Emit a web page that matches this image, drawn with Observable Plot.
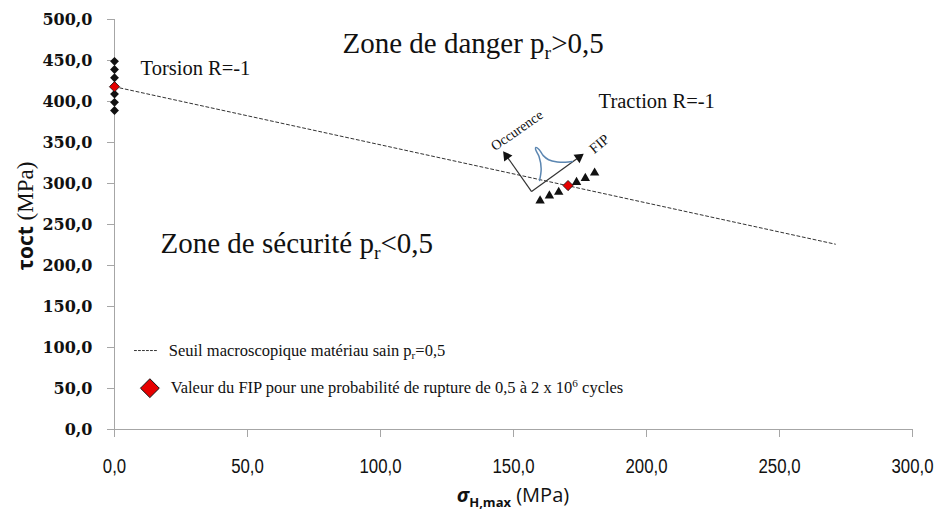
<!DOCTYPE html>
<html><head><meta charset="utf-8">
<script src="https://cdn.jsdelivr.net/npm/d3@7"></script>
<script src="https://cdn.jsdelivr.net/npm/@observablehq/plot@0.6"></script>
<style>
body{margin:0;background:#fff;}
#chart svg{display:block;overflow:visible;}
</style></head><body><div id="chart"></div>
<script>
// ---- data ----
const xTicks = [0, 50, 100, 150, 200, 250, 300];
const yTicks = [0, 50, 100, 150, 200, 250, 300, 350, 400, 450, 500];
const torsionX = [0, 0, 0, 0, 0, 0, 0];
const torsionY = [449, 439, 429, 419, 409, 399, 389];
const tractionX = [160, 163.5, 167, 173.7, 177, 180.5];
const tractionY = [279, 285, 289.5, 301.5, 306.5, 313];
const fipX = [0, 170.5];
const fipY = [418, 297.5];
const seuilX = [0, 271];
const seuilY = [418, 226];
// inset sketch (occurrence distribution of the FIP)
const insetOrigin = [156.8, 290.2];
const occurHead = [147.4, 333.5];
const fipHead = [174.6, 332.0];
const bellX = [159.8, 160.4, 159.6, 158.3, 158.4, 159.6, 161.2, 163.2, 166.5, 169.5, 172.1];
const bellY = [303.7, 318.0, 333.0, 341.5, 344.0, 341.5, 334.0, 329.0, 326.3, 325.8, 326.8];
// labels
const zoneDanger = "Zone de danger p_{r}>0,5";
const zoneSecu = "Zone de sécurité p_{r}<0,5";
const torsionLabel = "Torsion R=-1";
const tractionLabel = "Traction R=-1";
const legendSeuil = "Seuil macroscopique matériau sain p_{r}=0,5";
const legendFip = "Valeur du FIP pour une probabilité de rupture de 0,5 à 2 x 10^{6} cycles";

const fmt = d => d.toFixed(1).replace(".", ",");
const torsion = torsionX.map((x, i) => ({x, y: torsionY[i]}));
const traction = tractionX.map((x, i) => ({x, y: tractionY[i]}));
const fip = fipX.map((x, i) => ({x, y: fipY[i]}));
const seuil = seuilX.map((x, i) => ({x, y: seuilY[i]}));
const bell = bellX.map((x, i) => ({x, y: bellY[i]}));
const arrows = [
  {x1: insetOrigin[0], y1: insetOrigin[1], x2: occurHead[0], y2: occurHead[1], rot: -36},
  {x1: insetOrigin[0], y1: insetOrigin[1], x2: fipHead[0], y2: fipHead[1], rot: 54}
];
const serif = "Liberation Serif";
const axisGray = "#a6a6a6";

const plot = Plot.plot({
  width: 938, height: 511,
  marginLeft: 114, marginRight: 26, marginTop: 19, marginBottom: 82,
  x: {domain: [0, 300]},
  y: {domain: [0, 500]},
  style: {background: "#fff", color: "#111", overflow: "visible"},
  marks: [
    Plot.axisY({ticks: yTicks, tickSize: 7, tickPadding: 15, tickFormat: fmt, label: null,
      stroke: axisGray, fill: "#111", fontFamily: "DejaVu Serif", fontWeight: "bold", fontSize: 16}),
    Plot.axisX({ticks: xTicks, tickSize: 8, tickPadding: 21, tickFormat: fmt, label: null,
      stroke: axisGray, fill: "#111", fontFamily: "Liberation Sans Narrow, Liberation Sans, sans-serif", fontSize: 21}),
    Plot.ruleY([0], {x1: 0, x2: 300, stroke: axisGray}),
    Plot.ruleX([0], {y1: 0, y2: 500, stroke: axisGray}),
    // threshold
    Plot.line(seuil, {x: "x", y: "y", stroke: "#333", strokeWidth: 1, strokeDasharray: "3,2.5"}),
    // inset sketch
    Plot.link(arrows, {x1: "x1", y1: "y1", x2: "x2", y2: "y2", stroke: "#333", strokeWidth: 1.2}),
    Plot.dot(arrows, {x: "x2", y: "y2", symbol: "triangle", r: 3.8, fill: "#111", stroke: null, rotate: "rot"}),
    Plot.line(bell, {x: "x", y: "y", curve: "catmull-rom", stroke: "#5b86b1", strokeWidth: 1.5}),
    Plot.text(["Occurence"], {x: 151.3, y: 364.6, rotate: -35, fontSize: 14, fontFamily: serif, fill: "#111"}),
    Plot.text(["FIP"], {x: 182.3, y: 348.2, rotate: -40, fontSize: 14.5, fontFamily: serif, fill: "#111"}),
    // points
    Plot.dot(torsion, {x: "x", y: "y", symbol: "diamond2", r: 4, fill: "#111", stroke: null}),
    Plot.dot(traction, {x: "x", y: "y", symbol: "triangle", r: 3.5, fill: "#111", stroke: null}),
    Plot.dot(fip, {x: "x", y: "y", symbol: "diamond2", r: 4.6, fill: "#e60000", stroke: "#111", strokeWidth: 0.8}),
    // annotations
    Plot.text([zoneDanger], {x: 85.7, y: 470.7, textAnchor: "start", fontSize: 29, fontFamily: serif, fill: "#111"}),
    Plot.text([zoneSecu], {x: 17.3, y: 226.5, textAnchor: "start", fontSize: 29, fontFamily: serif, fill: "#111"}),
    Plot.text([torsionLabel], {x: 9.8, y: 440, textAnchor: "start", fontSize: 20.5, fontFamily: serif, fill: "#111"}),
    Plot.text([tractionLabel], {x: 182, y: 400, textAnchor: "start", fontSize: 20.5, fontFamily: serif, fill: "#111"}),
    // legend
    Plot.line([{x: 7.5, y: 96.3}, {x: 16.2, y: 96.3}], {x: "x", y: "y", stroke: "#333", strokeWidth: 1, strokeDasharray: "2,2"}),
    Plot.text([legendSeuil], {x: 20.4, y: 96.3, textAnchor: "start", fontSize: 16.5, fontFamily: serif, fill: "#111"}),
    Plot.dot([{x: 13.3, y: 50.4}], {x: "x", y: "y", symbol: "diamond2", r: 8.5, fill: "#e60000", stroke: "#111", strokeWidth: 1}),
    Plot.text([legendFip], {x: 21.1, y: 50.4, textAnchor: "start", fontSize: 16.5, fontFamily: serif, fill: "#111"})
  ]
});
document.getElementById("chart").appendChild(plot);

const NS = "http://www.w3.org/2000/svg";
// rich text: _{sub} and ^{sup}
plot.querySelectorAll("text").forEach(t => {
  const s = t.textContent;
  if (!/[_^]\{/.test(s)) return;
  const fs = parseFloat(t.getAttribute("font-size")) || parseFloat(getComputedStyle(t).fontSize) || 16;
  t.textContent = "";
  let cur = 0, last = 0, m;
  const re = /([_^])\{([^}]*)\}/g;
  const add = (str, target, small) => {
    const ts = document.createElementNS(NS, "tspan");
    ts.textContent = str;
    if (small) ts.setAttribute("font-size", (fs * 0.68).toFixed(1));
    const dy = target - cur;
    if (dy) ts.setAttribute("dy", dy.toFixed(1));
    cur = target;
    t.appendChild(ts);
  };
  while ((m = re.exec(s))) {
    if (m.index > last) add(s.slice(last, m.index), 0, false);
    add(m[2], m[1] === "_" ? fs * 0.22 : -fs * 0.38, true);
    last = re.lastIndex;
  }
  if (last < s.length) add(s.slice(last), 0, false);
});

// condensed x tick labels
plot.querySelectorAll("g[font-family*='Narrow'] text").forEach(t => {
  const tr = t.getAttribute("transform");
  if (tr) t.setAttribute("transform", tr + " scale(0.8,1)");
  else {
    const x = +t.getAttribute("x") || 0, y = +t.getAttribute("y") || 0;
    t.removeAttribute("x"); t.removeAttribute("y");
    t.setAttribute("transform", `translate(${x},${y}) scale(0.8,1)`);
  }
});

// axis titles
const svg = d3.select(plot);
const sx = plot.scale("x"), sy = plot.scale("y");
const cx = (sx.range[0] + sx.range[1]) / 2;
const xt = svg.append("text").attr("x", cx).attr("y", 502).attr("text-anchor", "middle")
  .attr("fill", "#111").attr("font-family", "Open Sans, sans-serif").attr("font-size", 20);
xt.append("tspan").text("σ").attr("font-weight", "bold").attr("font-style", "italic");
xt.append("tspan").text("H,max").attr("font-weight", "bold").attr("font-size", 13).attr("dy", 5);
xt.append("tspan").text(" (MPa)").attr("dy", -5);

const cy = (sy.range[0] + sy.range[1]) / 2 - 8;
const yt = svg.append("text").attr("transform", `translate(33,${cy}) rotate(-90)`).attr("text-anchor", "middle")
  .attr("fill", "#111").attr("font-size", 21);
yt.append("tspan").text("τoct").attr("font-family", "Open Sans, sans-serif").attr("font-weight", "bold");
yt.append("tspan").text(" (MPa)").attr("font-family", "Liberation Serif, serif").attr("font-size", 23);
</script>
</body></html>
